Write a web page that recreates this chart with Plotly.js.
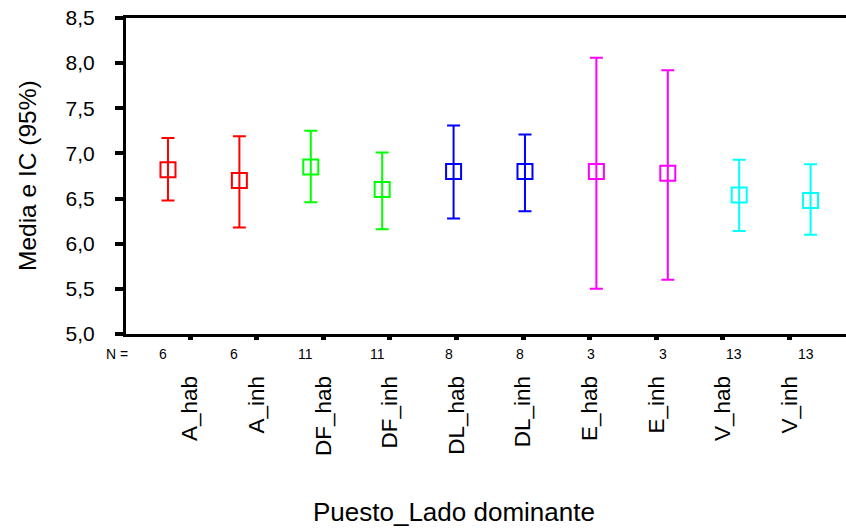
<!DOCTYPE html>
<html><head><meta charset="utf-8">
<script src="https://cdn.plot.ly/plotly-3.0.1.min.js"></script>
<style>body{margin:0;background:#fff}#chart{width:846px;height:528px}</style>
</head><body><div id="chart"></div>
<script>
const categories = ["A_hab","A_inh","DF_hab","DF_inh","DL_hab","DL_inh","E_hab","E_inh","V_hab","V_inh"];
const groups = ["A","DF","DL","E","V"];
const groupColors = ["#ff0000","#00ff00","#0000ff","#ff00ff","#00ffff"];
const means = [6.82, 6.70, 6.85, 6.60, 6.80, 6.80, 6.80, 6.78, 6.54, 6.48];
const upper = [7.17, 7.19, 7.25, 7.01, 7.31, 7.21, 8.06, 7.92, 6.93, 6.88];
const lower = [6.48, 6.18, 6.46, 6.16, 6.28, 6.36, 5.50, 5.60, 6.14, 6.10];
const nValues = [6, 6, 11, 11, 8, 8, 3, 3, 13, 13];

const FONT = "Arial, 'Liberation Sans', sans-serif";
const traces = groups.map((g, gi) => {
  const idx = categories.map((c, i) => i).filter(i => categories[i].split("_")[0] === g);
  return {
    type: "scatter", mode: "markers", xaxis: "x", yaxis: "y",
    x: idx.map(i => categories[i]),
    y: idx.map(i => means[i]),
    marker: {symbol: "square-open", size: 15, color: groupColors[gi], line: {width: 2, color: groupColors[gi]}},
    error_y: {type: "data", symmetric: false,
      array: idx.map(i => upper[i] - means[i]),
      arrayminus: idx.map(i => means[i] - lower[i]),
      color: groupColors[gi], thickness: 2, width: 6.5},
    showlegend: false, hoverinfo: "skip"
  };
});
// dummy trace for the label axis
traces.push({type: "scatter", mode: "markers", x: [0], y: [5], xaxis: "x2", yaxis: "y",
  marker: {opacity: 0}, showlegend: false, hoverinfo: "skip"});

const annotations = [
  {text: "Media e IC (95%)", textangle: -90, xref: "paper", yref: "paper", x: 0, y: 0.5,
   xanchor: "center", yanchor: "middle", xshift: -99, showarrow: false,
   font: {family: FONT, size: 24.5, color: "#000"}},
  {text: "Puesto_Lado dominante", xref: "paper", yref: "paper", x: 0.456, y: 0,
   xanchor: "center", yanchor: "middle", yshift: -178,
   showarrow: false, font: {family: FONT, size: 26, color: "#000"}},
  {text: "N =", xref: "paper", yref: "paper", x: 0, y: 0, xanchor: "center", yanchor: "middle",
   xshift: -9, yshift: -20, showarrow: false, font: {family: FONT, size: 14, color: "#000"}}
];
categories.forEach((c, i) => annotations.push({
  text: String(nValues[i]), xref: "x", yref: "paper", x: c, y: 0, xanchor: "center", yanchor: "middle",
  xshift: -5, yshift: -20, showarrow: false, font: {family: FONT, size: 14, color: "#000"}
}));

const layout = {
  width: 846, height: 528,
  margin: {l: 126, r: 0, t: 18, b: 194},
  paper_bgcolor: "#fff", plot_bgcolor: "#fff",
  separators: ",.",
  font: {family: FONT, color: "#000"},
  xaxis: {type: "category", categoryorder: "array", categoryarray: categories,
    range: [-0.588, 9.496], showticklabels: false, ticks: "", showgrid: false, zeroline: false,
    showline: true, mirror: true, linecolor: "#000", linewidth: 3},
  xaxis2: {overlaying: "x", anchor: "y", side: "bottom", range: [-0.961, 9.85],
    tickvals: categories.map((c, i) => i), ticktext: categories, tickangle: -90,
    ticks: "outside", ticklen: 5, tickwidth: 5, tickcolor: "#000",
    ticklabelstandoff: 27, showgrid: false, zeroline: false, showline: false,
    tickfont: {family: FONT, size: 22.5, color: "#000"}},
  yaxis: {range: [5, 8.5], tickvals: [5, 5.5, 6, 6.5, 7, 7.5, 8, 8.5], tickformat: ".1f",
    ticks: "outside", ticklen: 8, tickwidth: 4, tickcolor: "#000", ticklabelstandoff: 16,
    showgrid: false, zeroline: false, showline: true, linecolor: "#000", linewidth: 3,
    tickfont: {family: FONT, size: 21, color: "#000"}},
  annotations: annotations
};
Plotly.newPlot("chart", traces, layout, {staticPlot: true});
</script></body></html>
